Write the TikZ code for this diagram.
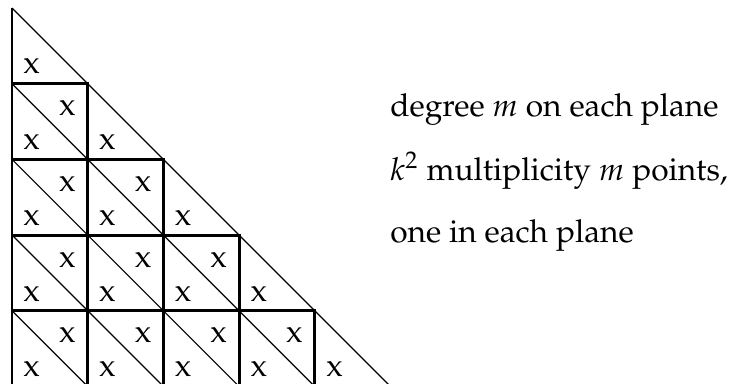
\documentclass[tikz,border=0pt]{standalone}
\usepackage[T1]{fontenc}
\usepackage{mathpazo}
\usepackage{tikz}

\begin{document}
\begin{tikzpicture}[thickline/.style={line width=1.1pt},
  thinline/.style={line width=0.45pt},
  markx/.style={inner sep=0pt, font=\fontsize{12}{14}\selectfont},
  remark/.style={inner sep=0pt, anchor=base west, font=\fontsize{11.9}{14}\selectfont}]
\clip (-0.159,0.106) rectangle (9.511,-4.954);
\draw[thinline] (0,0) -- (5.2,-5.2);
\draw[thickline] (0,0) -- (0,-1);
\node[markx] (t0) at (0.26,-0.77) {x};
\foreach \r in {1,...,4} {
  \node[markx] (t\r) at (\r+0.26,-\r-0.77) {x};
  \foreach \c in {1,...,\r} {
    \draw[thinline] (\c-1,-\r) -- (\c,-\r-1);
    \draw[thickline] (\c-1,-\r) rectangle (\c,-\r-1);
    \node[markx] (u\c\r) at (\c-0.27,-\r-0.32) {x};
    \node[markx] (l\c\r) at (\c-0.74,-\r-0.77) {x};
  }
}
\node[remark] (deg) at (4.99,-1.427) {degree $m$ on each plane};
\node[remark] (mult) at (4.99,-2.272) {$k^2$ multiplicity $m$ points,};
\node[remark] (one) at (4.99,-3.091) {one in each plane};
\end{tikzpicture}
\end{document}
